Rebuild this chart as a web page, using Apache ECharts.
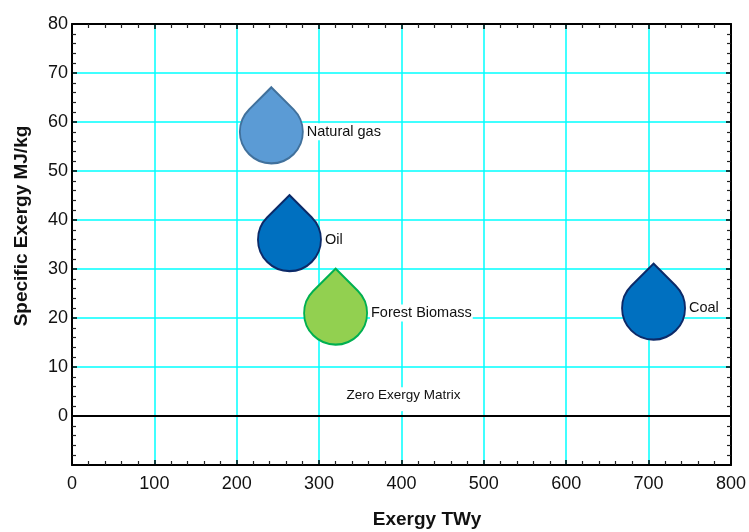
<!DOCTYPE html>
<html>
<head>
<meta charset="utf-8">
<script src="https://cdn.jsdelivr.net/npm/echarts@6/dist/echarts.min.js"></script>
<style>
html,body{margin:0;padding:0;background:#fff;}
#chart{width:749px;height:532px;}
</style>
</head>
<body>
<div id="chart"></div>
<script>
// ---- data ----
const names = ['Natural gas', 'Oil', 'Forest Biomass', 'Coal', 'Zero Exergy Matrix'];
const exergyTWy = [242, 264, 320, 706, 400];
const specificExergy = [58, 36, 21, 22, 2];
const xTicks = [0, 100, 200, 300, 400, 500, 600, 700, 800];
const yTicks = [-10, 0, 10, 20, 30, 40, 50, 60, 70, 80];

// ---- styles ----
const FONT = "'Liberation Sans', Arial, sans-serif";
const DROP = 'path://M31.5 0 L53.75 22.19 A31.5 31.5 0 1 1 9.25 22.19 Z';
const styleByName = {
  'Natural gas': {fill: '#5b9bd5', stroke: '#41719c'},
  'Oil': {fill: '#0070c0', stroke: '#0c2a68'},
  'Forest Biomass': {fill: '#92d050', stroke: '#00b050'},
  'Coal': {fill: '#0070c0', stroke: '#0c2a68'},
  'Zero Exergy Matrix': {fill: '#ffffff', stroke: '#ffffff'}
};

const seriesData = names.map((n, i) => {
  const s = styleByName[n];
  const isZero = n === 'Zero Exergy Matrix';
  return {
    name: n,
    value: [exergyTWy[i], specificExergy[i]],
    symbol: DROP,
    symbolSize: isZero ? [8, 10] : [63, 76],
    symbolOffset: isZero ? [0, 0] : [0, -6.5],
    itemStyle: {color: s.fill, borderColor: s.stroke, borderWidth: isZero ? 0 : 2, opacity: 1},
    label: isZero
      ? {position: 'top', distance: -2, fontSize: 13.5, offset: [2, 0]}
      : {position: 'right', distance: 2, fontSize: 14.5, offset: [0, 6.5]}
  };
});

const gridColor = '#00ffff';
function makeAxis(kind, pos, main, min, max, interval, ticks) {
  return {
    type: 'value',
    position: pos,
    min: min, max: max, interval: interval,
    axisLine: {show: true, onZero: false, lineStyle: {color: '#000', width: 2}},
    axisTick: {show: true, inside: true, length: 5, lineStyle: {color: '#000', width: 1.5}},
    minorTick: {show: true, splitNumber: 5, length: 4, lineStyle: {color: '#222', width: 1.2}},
    splitLine: {show: main, lineStyle: {color: gridColor, width: 1.5}},
    minorSplitLine: {show: false},
    axisLabel: {
      show: main,
      inside: false,
      margin: kind === 'x' ? 10 : 4,
      fontSize: 18,
      fontFamily: FONT,
      color: '#111',
      formatter: function (v) { return (ticks.indexOf(v) >= 0 && v >= 0) ? String(v) : ''; }
    }
  };
}

const chart = echarts.init(document.getElementById('chart'), null, {renderer: 'canvas'});
chart.setOption({
  animation: false,
  backgroundColor: '#ffffff',
  grid: {left: 72, right: 17, top: 24, bottom: 67, containLabel: false},
  xAxis: [
    makeAxis('x', 'bottom', true, xTicks[0], xTicks[xTicks.length - 1], 100, xTicks),
    makeAxis('x', 'top', false, xTicks[0], xTicks[xTicks.length - 1], 100, xTicks)
  ],
  yAxis: [
    makeAxis('y', 'left', true, yTicks[0], yTicks[yTicks.length - 1], 10, yTicks),
    makeAxis('y', 'right', false, yTicks[0], yTicks[yTicks.length - 1], 10, yTicks)
  ],
  graphic: [
    {
      type: 'text', x: 427, y: 520,
      style: {text: 'Exergy TWy', font: 'bold 19px ' + FONT, fill: '#111', align: 'center', verticalAlign: 'middle'}
    },
    {
      type: 'text', x: 22, y: 226, rotation: Math.PI / 2,
      style: {text: 'Specific Exergy MJ/kg', font: 'bold 19px ' + FONT, fill: '#111', align: 'center', verticalAlign: 'middle'}
    }
  ],
  series: [{
    type: 'scatter',
    xAxisIndex: 0,
    yAxisIndex: 0,
    data: seriesData,
    itemStyle: {opacity: 1},
    label: {
      show: true,
      formatter: '{b}',
      fontFamily: FONT,
      color: '#111',
      opacity: 1,
      backgroundColor: '#ffffff',
      padding: [1, 1]
    },
    emphasis: {disabled: true},
    markLine: {
      silent: true,
      symbol: ['none', 'none'],
      label: {show: false},
      lineStyle: {color: '#000', width: 2, type: 'solid', opacity: 1},
      data: [{yAxis: 0}]
    },
    z: 3
  }]
});
</script>
</body>
</html>
